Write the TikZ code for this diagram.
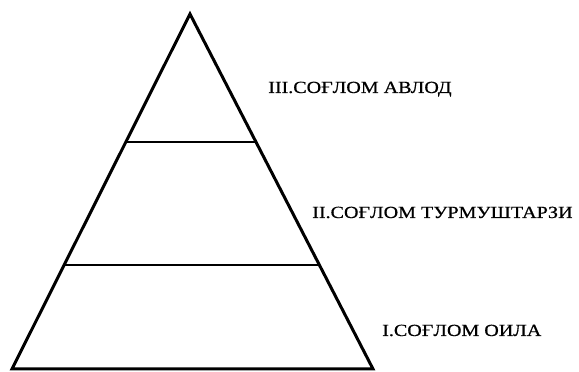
\documentclass[tikz,border=0pt]{standalone}
\usepackage{fontspec}
\setmainfont{Liberation Serif}
\newfontfamily\lblfont{Liberation Serif}[FakeBold=0.6]
\usetikzlibrary{calc}
\begin{document}
\begin{tikzpicture}[x=1pt,y=1pt,
  lbl/.style={anchor=base west,inner sep=0pt,xscale=1.18,font=\lblfont\fontsize{17}{19}\selectfont},
  edge/.style={line width=3pt,line join=miter},
  tier/.style={line width=1.8pt}]
\useasboundingbox (0,0) rectangle (579,372);
\coordinate (apex) at (190,358);
\coordinate (bl) at (12,3);
\coordinate (br) at (373,3);
\draw[edge] (apex) -- (bl) -- (br) -- cycle;
\coordinate (a1) at ($(apex)!0.36!(bl)$);
\coordinate (b1) at ($(apex)!0.36!(br)$);
\coordinate (a2) at ($(apex)!0.707!(bl)$);
\coordinate (b2) at ($(apex)!0.707!(br)$);
\draw[tier] (a1) -- (b1);
\draw[tier] (a2) -- (b2);
\node[lbl] (t3) at (268,279) {III.СОҒЛОМ АВЛОД};
\node[lbl] (t2) at (312,154) {II.СОҒЛОМ ТУРМУШТАРЗИ};
\node[lbl] (t1) at (382,36) {I.СОҒЛОМ ОИЛА};
\end{tikzpicture}
\end{document}
